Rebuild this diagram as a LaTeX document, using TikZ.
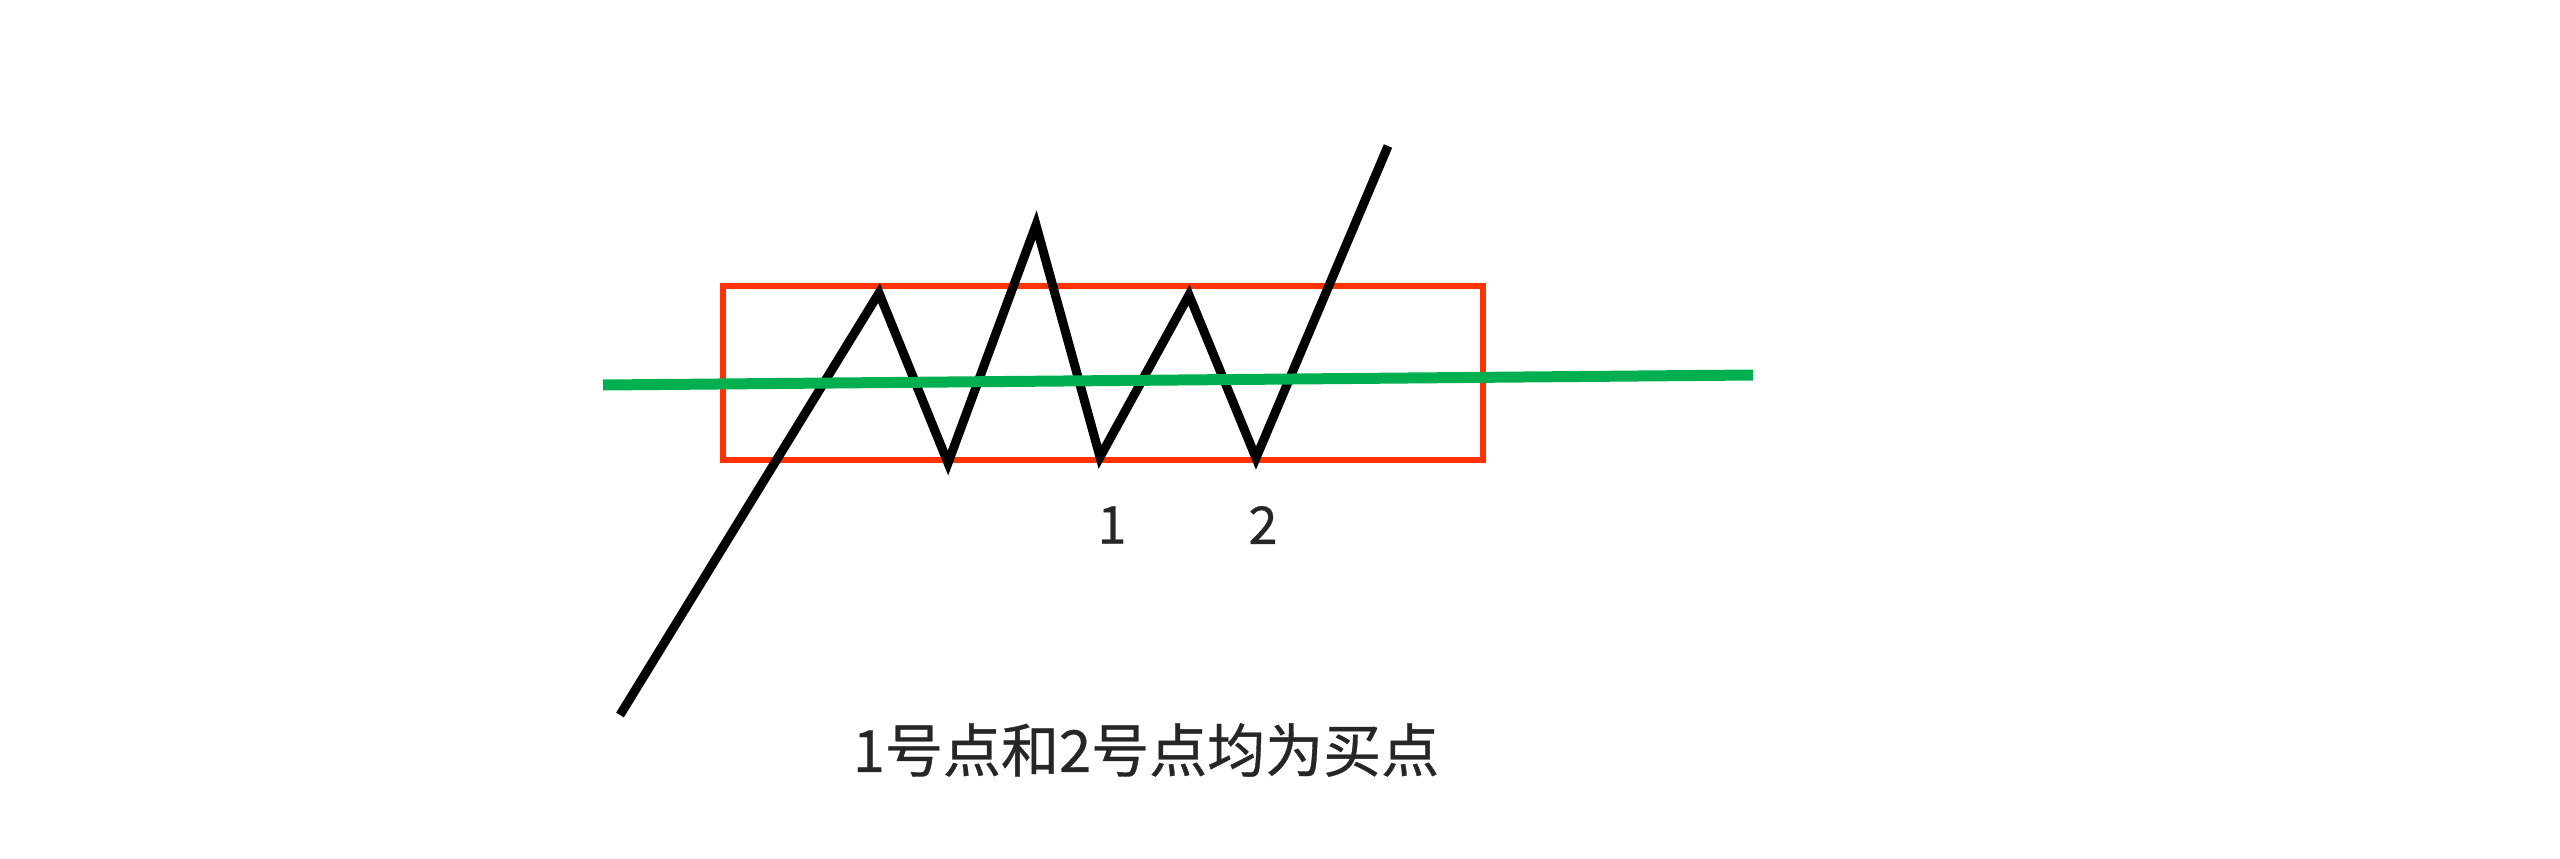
\documentclass[tikz,border=0pt]{standalone}
\usepackage{fontspec}
\newfontfamily\cjk[FakeBold=0.6]{Noto Sans CJK SC}
\begin{document}
\begin{tikzpicture}[x=1pt,y=-1pt,
  boxline/.style={draw=redbox,line width=6.5pt},
  pricepath/.style={draw=black,line width=9pt,line join=miter},
  midline/.style={draw=greenline,line width=11pt},
  lbl/.style={font=\cjk\fontsize{52}{56}\selectfont,text=black!85,inner sep=0pt},
  caption/.style={font=\cjk\fontsize{58}{62}\selectfont,text=black!85,inner sep=0pt}]
\definecolor{redbox}{HTML}{FF3300}
\definecolor{greenline}{HTML}{00B050}
\useasboundingbox[fill=white] (0,0) rectangle (2560,859);
% range box
\coordinate (bl) at (723,460);
\coordinate (tr) at (1483,286);
\draw[boxline] (bl) rectangle (tr);
% price path
\coordinate (p0) at (620,715);
\coordinate (p1) at (879,293);
\coordinate (p2) at (948,463);
\coordinate (p3) at (1036,225);
\coordinate (p4) at (1100,457);
\coordinate (p5) at (1189,295);
\coordinate (p6) at (1256,458);
\coordinate (p7) at (1388,146);
\draw[pricepath] (p0) -- (p1) -- (p2) -- (p3) -- (p4) -- (p5) -- (p6) -- (p7);
% middle line
\coordinate (g0) at (603,385);
\coordinate (g1) at (1753,375);
\draw[midline] (g0) -- (g1);
% labels
\node[lbl] (l1) at (1112,525) {1};
\node[lbl] (l2) at (1263,525) {2};
\node[caption] (cap) at (1146,750) {1号点和2号点均为买点};
\end{tikzpicture}
\end{document}
